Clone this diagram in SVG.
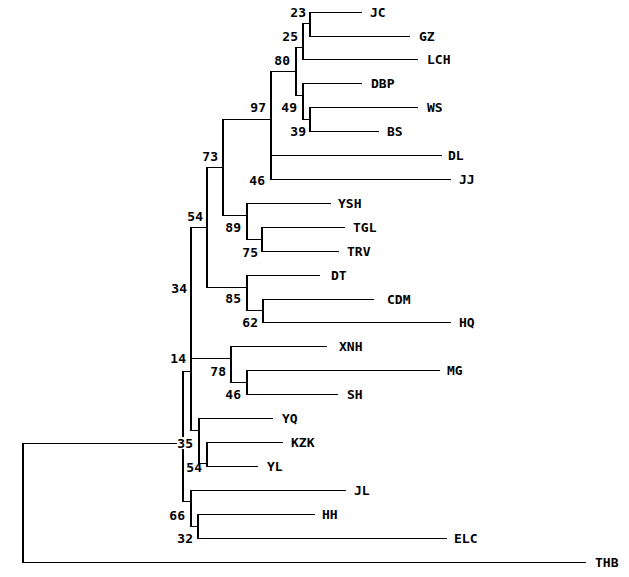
<svg xmlns="http://www.w3.org/2000/svg" width="629" height="577" viewBox="0 0 629 577">
<style>
.h{stroke:#000;stroke-width:1;fill:none}
.v{stroke:#000;stroke-width:2;fill:none}
text{font-family:"DejaVu Sans Mono","Liberation Mono",monospace;font-weight:bold;font-size:13px;fill:#000}
.bl{text-anchor:end}
.bg{fill:#fff}
</style>
<rect width="629" height="577" fill="#fff"/>
<g id="connectors">
<path class="h" d="M303 23.5H310M296 47.5H303M303 119.5H310M296 95.5H303M271 71.5H296M223 119.5H271M247 239.5H262M223 215.5H247M207 167.5H223M247 310.5H263M207 287.5H247M191 227.5H207M231 382.5H247M191 358.5H231M183 371.5H191M199 463.5H207M191 430.5H199M191 526.5H198M183 501.5H191M23 443.5H183"/>
<path class="h" d="M310 12.5H362M310 36.5H410M303 59.5H418M303 83.5H362M310 107.5H418M310 131.5H379M271 155.5H442M271 179.5H451M247 203.5H331M262 227.5H345M262 251.5H339M247 275.5H320M263 299.5H374M263 322.5H451M231 346.5H327M247 370.5H440M247 394.5H338M199 418.5H273M207 442.5H283M207 466.5H258M191 490.5H346M198 514.5H315M198 538.5H447M23 562.5H586"/>
<path class="v" d="M310 12V37M303 23V60M310 107V132M303 83V120M296 47V96M271 71V180M262 227V252M247 203V240M223 119V216M263 299V323M247 275V311M207 167V288M247 370V395M231 346V383M191 227V431M207 442V467M199 418V464M198 514V539M191 490V527M183 371V502M23 443V563"/>
</g>
<g id="n23"><text class="bl" x="306" y="16.5">23</text></g>
<g id="n25"><text class="bl" x="298" y="40.5">25</text></g>
<g id="n80"><text class="bl" x="290" y="64.5">80</text></g>
<g id="n49"><text class="bl" x="297" y="111.5">49</text></g>
<g id="n39"><text class="bl" x="306" y="135.5">39</text></g>
<g id="n97"><text class="bl" x="266" y="111.5">97</text></g>
<g id="n46a"><text class="bl" x="265" y="184.5">46</text></g>
<g id="n73"><text class="bl" x="218" y="160.5">73</text></g>
<g id="n89"><text class="bl" x="241" y="231.5">89</text></g>
<g id="n75"><text class="bl" x="258" y="256.5">75</text></g>
<g id="n54a"><text class="bl" x="203" y="220.5">54</text></g>
<g id="n85"><text class="bl" x="241" y="302.5">85</text></g>
<g id="n62"><text class="bl" x="258" y="326.5">62</text></g>
<g id="n34"><text class="bl" x="187" y="292.5">34</text></g>
<g id="n14"><text class="bl" x="186" y="362.5">14</text></g>
<g id="n78"><text class="bl" x="226" y="375.5">78</text></g>
<g id="n46b"><text class="bl" x="241" y="398.5">46</text></g>
<g id="n35"><rect class="bg" x="177" y="437" width="17" height="12"/><text class="bl" x="193" y="447.5">35</text></g>
<g id="n54b"><text class="bl" x="202" y="471.5">54</text></g>
<g id="n66"><text class="bl" x="185" y="519.5">66</text></g>
<g id="n32"><text class="bl" x="193" y="542.5">32</text></g>
<g id="JC"><text x="370" y="16.5">JC</text></g>
<g id="GZ"><text x="419" y="40.5">GZ</text></g>
<g id="LCH"><text x="427" y="63.5">LCH</text></g>
<g id="DBP"><text x="371" y="87.5">DBP</text></g>
<g id="WS"><text x="427" y="111.5">WS</text></g>
<g id="BS"><text x="387" y="135.5">BS</text></g>
<g id="DL"><text x="448" y="159.5">DL</text></g>
<g id="JJ"><text x="459" y="183.5">JJ</text></g>
<g id="YSH"><text x="338" y="207.5">YSH</text></g>
<g id="TGL"><text x="353" y="231.5">TGL</text></g>
<g id="TRV"><text x="347" y="255.5">TRV</text></g>
<g id="DT"><text x="331" y="279.5">DT</text></g>
<g id="CDM"><text x="387" y="303.5">CDM</text></g>
<g id="HQ"><text x="459" y="326.5">HQ</text></g>
<g id="XNH"><text x="339" y="350.5">XNH</text></g>
<g id="MG"><text x="447" y="374.5">MG</text></g>
<g id="SH"><text x="347" y="398.5">SH</text></g>
<g id="YQ"><text x="282" y="422.5">YQ</text></g>
<g id="KZK"><text x="291" y="446.5">KZK</text></g>
<g id="YL"><text x="267" y="470.5">YL</text></g>
<g id="JL"><text x="354" y="494.5">JL</text></g>
<g id="HH"><text x="322" y="518.5">HH</text></g>
<g id="ELC"><text x="454" y="542.5">ELC</text></g>
<g id="THB"><text x="595" y="566.5">THB</text></g>
</svg>
